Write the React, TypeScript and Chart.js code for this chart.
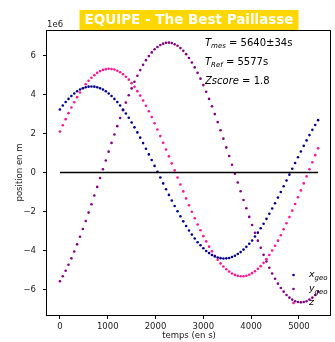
import React, { useEffect, useRef } from "react";
import { Chart, registerables } from "chart.js";

Chart.register(...registerables);

const times = [
  0, 60, 120, 180, 240, 300, 360, 420, 480, 540,
  600, 660, 720, 780, 840, 900, 960, 1020, 1080, 1140,
  1200, 1260, 1320, 1380, 1440, 1500, 1560, 1620, 1680, 1740,
  1800, 1860, 1920, 1980, 2040, 2100, 2160, 2220, 2280, 2340,
  2400, 2460, 2520, 2580, 2640, 2700, 2760, 2820, 2880, 2940,
  3000, 3060, 3120, 3180, 3240, 3300, 3360, 3420, 3480, 3540,
  3600, 3660, 3720, 3780, 3840, 3900, 3960, 4020, 4080, 4140,
  4200, 4260, 4320, 4380, 4440, 4500, 4560, 4620, 4680, 4740,
  4800, 4860, 4920, 4980, 5040, 5100, 5160, 5220, 5280, 5340,
  5400,
];

// positions in units of 1e6 m
const xGeo = [
  3.24, 3.44, 3.62, 3.78, 3.93, 4.06, 4.17, 4.26, 4.33, 4.38,
  4.41, 4.42, 4.41, 4.38, 4.33, 4.26, 4.17, 4.06, 3.93, 3.78,
  3.62, 3.44, 3.24, 3.03, 2.81, 2.57, 2.32, 2.06, 1.79, 1.51,
  1.22, 0.93, 0.64, 0.34, 0.04, -0.26, -0.56, -0.86, -1.15, -1.44,
  -1.72, -1.99, -2.25, -2.51, -2.75, -2.98, -3.19, -3.39, -3.58, -3.74,
  -3.89, -4.03, -4.14, -4.24, -4.31, -4.37, -4.40, -4.42, -4.41, -4.39,
  -4.34, -4.28, -4.19, -4.09, -3.96, -3.82, -3.66, -3.49, -3.29, -3.09,
  -2.86, -2.63, -2.38, -2.12, -1.85, -1.58, -1.29, -1.00, -0.71, -0.41,
  -0.11, 0.19, 0.49, 0.78, 1.08, 1.37, 1.65, 1.92, 2.19, 2.44,
  2.69,
];

const yGeo = [
  -5.59, -5.33, -5.05, -4.74, -4.41, -4.06, -3.69, -3.30, -2.90, -2.49,
  -2.06, -1.63, -1.18, -0.74, -0.28, 0.17, 0.62, 1.07, 1.52, 1.95,
  2.38, 2.80, 3.20, 3.59, 3.97, 4.32, 4.66, 4.97, 5.26, 5.53,
  5.77, 5.98, 6.17, 6.33, 6.45, 6.55, 6.62, 6.66, 6.67, 6.65,
  6.59, 6.51, 6.39, 6.25, 6.08, 5.88, 5.65, 5.40, 5.12, 4.82,
  4.49, 4.15, 3.78, 3.40, 3.00, 2.59, 2.17, 1.74, 1.29, 0.85,
  0.40, -0.06, -0.51, -0.96, -1.41, -1.84, -2.28, -2.70, -3.10, -3.50,
  -3.87, -4.23, -4.57, -4.89, -5.19, -5.46, -5.71, -5.93, -6.12, -6.29,
  -6.43, -6.53, -6.61, -6.65, -6.67, -6.65, -6.61, -6.53, -6.43, -6.29,
  -6.12,
];

const zGeo = [
  2.10, 2.43, 2.74, 3.05, 3.34, 3.61, 3.87, 4.11, 4.33, 4.53,
  4.71, 4.87, 5.00, 5.12, 5.21, 5.27, 5.31, 5.33, 5.32, 5.29,
  5.23, 5.15, 5.05, 4.92, 4.77, 4.59, 4.40, 4.18, 3.95, 3.70,
  3.43, 3.15, 2.85, 2.53, 2.21, 1.87, 1.53, 1.18, 0.83, 0.47,
  0.11, -0.26, -0.62, -0.97, -1.33, -1.68, -2.02, -2.35, -2.67, -2.97,
  -3.27, -3.54, -3.81, -4.05, -4.28, -4.48, -4.67, -4.83, -4.97, -5.09,
  -5.19, -5.26, -5.31, -5.33, -5.33, -5.30, -5.25, -5.17, -5.07, -4.95,
  -4.81, -4.64, -4.45, -4.24, -4.01, -3.76, -3.50, -3.22, -2.92, -2.61,
  -2.29, -1.96, -1.62, -1.27, -0.92, -0.56, -0.20, 0.17, 0.53, 0.89,
  1.24,
];

const zeroLineX = [0, 5400];
const zeroLineY = [0, 0];

const xTicks = [0, 1000, 2000, 3000, 4000, 5000];
const yTicks = [-6, -4, -2, 0, 2, 4, 6];

const titleText = "EQUIPE - The Best Paillasse";
const xLabel = "temps (en s)";
const yLabel = "position en m";
const offsetText = "1e6";

const legendNames = [
  { main: "x", sub: "geo" },
  { main: "y", sub: "geo" },
  { main: "z", sub: "" },
];
const colors = ["#00008b", "#800080", "#ff1493"];

const FONT = "'DejaVu Sans', sans-serif";
const SMALL = 8.5;
const DOT = 1.3;

const fmt = (v: number) => (v < 0 ? "\u2212" + Math.abs(v) : String(v));

const overlayPlugin = {
  id: "overlay",
  afterDraw(chart: any) {
    const ctx = chart.ctx;
    const a = chart.chartArea;
    ctx.save();
    // spines
    ctx.strokeStyle = "#000";
    ctx.lineWidth = 1;
    ctx.strokeRect(a.left - 0.5, a.top + 0.5, a.right - a.left, a.bottom - a.top);

    // offset text
    ctx.fillStyle = "#222";
    ctx.font = `${SMALL}px ${FONT}`;
    ctx.textAlign = "left";
    ctx.textBaseline = "alphabetic";
    ctx.fillText(offsetText, a.left, a.top - 3);

    // axis titles
    ctx.textAlign = "center";
    ctx.textBaseline = "middle";
    ctx.fillText(xLabel, (a.left + a.right) / 2, 336);
    ctx.save();
    ctx.translate(20, (a.top + a.bottom) / 2);
    ctx.rotate(-Math.PI / 2);
    ctx.fillText(yLabel, 0, 0);
    ctx.restore();

    // title box
    ctx.font = `bold 13.5px ${FONT}`;
    const tw = ctx.measureText(titleText).width;
    const cx = (a.left + a.right) / 2;
    ctx.fillStyle = "#ffd700";
    ctx.fillRect(cx - tw / 2 - 5, 10, tw + 10, 20);
    ctx.fillStyle = "#fff";
    ctx.fillText(titleText, cx, 20.5);

    // annotation text
    const drawMath = (x: number, y: number, main: string, sub: string, rest: string, size: number) => {
      ctx.textAlign = "left";
      ctx.textBaseline = "middle";
      ctx.fillStyle = "#000";
      ctx.font = `italic ${size}px ${FONT}`;
      ctx.fillText(main, x, y);
      let px = x + ctx.measureText(main).width;
      if (sub) {
        ctx.font = `italic ${Math.round(size * 0.7)}px ${FONT}`;
        ctx.fillText(sub, px, y + size * 0.3);
        px += ctx.measureText(sub).width;
      }
      if (rest) {
        ctx.font = `${size}px ${FONT}`;
        ctx.fillText(rest, px, y);
      }
    };
    drawMath(205, 43, "T", "mes", " = 5640\u00b134s", 10);
    drawMath(205, 62, "T", "Ref", " = 5577s", 10);
    drawMath(205, 81.5, "Zscore", "", " = 1.8", 10);

    // legend
    const rows = [275, 289, 303];
    legendNames.forEach((n, i) => {
      ctx.fillStyle = colors[i];
      ctx.beginPath();
      ctx.arc(293.5, rows[i], DOT, 0, Math.PI * 2);
      ctx.fill();
      drawMath(309, rows[i], n.main, n.sub, "", 9.5);
    });
    ctx.restore();
  },
};

export default function App() {
  const ref = useRef<HTMLCanvasElement>(null);
  useEffect(() => {
    if (!ref.current) return;
    const mk = (vals: number[]) => times.map((t, i) => ({ x: t, y: vals[i] }));
    const chart = new Chart(ref.current, {
      type: "scatter",
      data: {
        datasets: [
          {
            label: "zero",
            data: zeroLineX.map((x, i) => ({ x, y: zeroLineY[i] })),
            showLine: true,
            borderColor: "#000",
            borderWidth: 1.5,
            pointRadius: 0,
          },
          { label: "x_geo", data: mk(xGeo), backgroundColor: colors[0], borderWidth: 0, pointRadius: DOT },
          { label: "y_geo", data: mk(yGeo), backgroundColor: colors[1], borderWidth: 0, pointRadius: DOT },
          { label: "z", data: mk(zGeo), backgroundColor: colors[2], borderWidth: 0, pointRadius: DOT },
        ] as any,
      },
      options: {
        animation: false,
        responsive: false,
        events: [],
        layout: { padding: { top: 30, right: 1, left: 0, bottom: 0 } },
        plugins: { legend: { display: false }, tooltip: { enabled: false }, title: { display: false } },
        scales: {
          x: {
            type: "linear",
            min: -270,
            max: 5670,
            afterFit: (s: any) => { s.height = 27; },
            afterBuildTicks: (s: any) => { s.ticks = xTicks.map((v) => ({ value: v })); },
            ticks: { font: { family: FONT, size: SMALL }, color: "#222", padding: 3, maxRotation: 0, callback: (v: any) => fmt(v) },
            grid: { display: true, drawOnChartArea: false, drawTicks: true, tickLength: 4, color: "#000" },
            border: { display: false },
          },
          y: {
            type: "linear",
            min: -7.32,
            max: 7.32,
            afterFit: (s: any) => { s.width = 47; },
            afterBuildTicks: (s: any) => { s.ticks = yTicks.map((v) => ({ value: v })); },
            ticks: { font: { family: FONT, size: SMALL }, color: "#222", padding: 7, callback: (v: any) => fmt(v) },
            grid: { display: true, drawOnChartArea: false, drawTicks: true, tickLength: 4, color: "#000" },
            border: { display: false },
          },
        },
      } as any,
      plugins: [overlayPlugin],
    });
    return () => chart.destroy();
  }, []);
  return (
    <div style={{ position: "fixed", left: 0, top: 0, width: 335, height: 342, background: "#fff" }}>
      <canvas ref={ref} width={335} height={342} style={{ width: 335, height: 342, display: "block" }} />
    </div>
  );
}
